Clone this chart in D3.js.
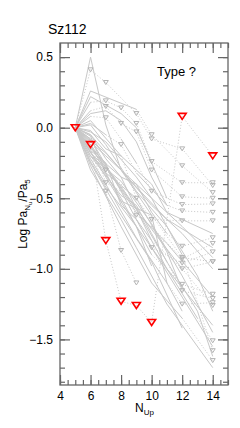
<!DOCTYPE html>
<html>
<head>
<meta charset="utf-8">
<script src="https://cdn.jsdelivr.net/npm/d3@7"></script>
<style>
  body { margin: 0; background: #fff; }
  svg { display: block; font-family: "Liberation Sans", Arial, sans-serif; }
</style>
</head>
<body>
<div id="chart"></div>
<script>
// Sz112 values (all upper limits, red)
const sz112N = [5, 6, 7, 8, 9, 10, 12, 14];
const sz112Val = [0, -0.12, -0.80, -1.23, -1.26, -1.38, 0.08, -0.20];

// comparison sources: [N_up, log ratio, upper limit flag]
const otherSources = [
    [[5,0,0],[6,0.50,0],[7,0.02,0],[8,-0.30,0],[10,-0.62,0],[12,-0.92,1],[14,-0.95,1]],
    [[5,0,0],[6,0.41,1],[7,0.32,1],[9,0.10,1],[10,-0.08,1],[12,-0.15,1],[14,-0.41,1]],
    [[5,0,0],[6,0.26,0],[9,0.13,0],[10,-0.05,1],[12,-0.27,1],[14,-0.46,1]],
    [[5,0,0],[6,0.18,0],[7,0.19,1],[8,0.14,1],[9,0.03,1],[10,-0.24,1],[12,-0.39,1],[14,-0.39,1]],
    [[5,0,0],[6,0.12,0],[7,0.15,1],[8,0.03,1],[9,-0.03,1],[10,-0.30,1],[12,-0.49,1],[14,-0.50,1]],
    [[5,0,0],[6,0.08,0],[7,0.07,1],[8,-0.08,0],[9,-0.25,0],[10,-0.45,1],[12,-0.545,1],[14,-0.54,1]],
    [[5,0,0],[6,0.03,0],[7,-0.05,0],[8,-0.12,1],[9,-0.32,0],[11,-0.55,0],[12,-0.59,1],[14,-0.60,1]],
    [[5,0,0],[6,-0.02,0],[7,-0.15,0],[8,-0.20,0],[9,-0.50,1],[10,-0.65,1],[12,-0.66,1],[14,-0.66,1]],
    [[5,0,0],[6,-0.05,0],[7,-0.22,0],[8,-0.35,0],[9,-0.40,0],[10,-0.60,0],[11,-0.75,0],[12,-0.84,1],[14,-0.78,1]],
    [[5,0,0],[6,-0.08,0],[7,-0.30,1],[8,-0.40,0],[9,-0.62,1],[10,-0.70,0],[12,-0.93,1],[14,-0.82,1]],
    [[5,0,0],[6,-0.10,0],[7,-0.39,1],[8,-0.45,0],[10,-0.85,1],[12,-0.96,1],[14,-0.88,1]],
    [[5,0,0],[6,-0.14,0],[7,-0.25,0],[8,-0.55,0],[9,-0.65,0],[10,-0.80,0],[12,-1.00,1],[14,-0.95,1]],
    [[5,0,0],[6,-0.17,0],[7,-0.33,0],[8,-0.50,0],[10,-0.90,0],[12,-1.11,1],[14,-1.18,1]],
    [[5,0,0],[6,-0.20,0],[8,-0.48,0],[9,-0.55,0],[10,-0.75,0],[11,-0.95,0],[12,-1.155,1],[14,-1.21,1]],
    [[5,0,0],[6,-0.22,0],[7,-0.40,0],[9,-0.78,0],[11,-1.10,0],[12,-1.25,1],[14,-1.24,1]],
    [[5,0,0],[6,-0.25,0],[8,-0.62,0],[10,-0.95,0],[12,-1.42,0]],
    [[5,0,0],[6,-0.27,0],[8,-0.70,0],[10,-1.10,0],[12,-1.35,0],[14,-1.65,1]],
    [[5,0,0],[7,-0.35,0],[9,-0.70,0],[11,-1.00,0],[13,-1.35,0],[14,-1.51,1]],
    [[5,0,0],[6,-0.12,0],[8,-0.42,0],[10,-0.72,0],[12,-1.00,0],[14,-1.26,1]],
    [[5,0,0],[6,-0.18,0],[7,-0.28,0],[9,-0.60,0],[11,-0.82,0],[14,-1.20,0]],
    [[5,0,0],[6,-0.05,0],[8,-0.30,0],[10,-0.55,0],[12,-0.75,0],[14,-1.00,0]],
    [[5,0,0],[7,-0.18,0],[9,-0.42,0],[11,-0.65,0],[14,-0.85,0]],
    [[5,0,0],[6,-0.30,0],[8,-0.65,0],[9,-0.85,0],[11,-1.25,0],[14,-1.70,0]],
    [[5,0,0],[6,-0.10,0],[7,-0.20,0],[10,-0.50,0],[12,-0.70,0],[14,-0.92,0]],
    [[5,0,0],[6,0.05,0],[8,-0.20,0],[10,-0.40,0],[11,-0.60,0],[14,-0.75,0]],
    [[5,0,0],[6,-0.03,0],[7,-0.10,0],[9,-0.35,0],[10,-0.50,0],[12,-0.90,0],[14,-1.58,1]],
    [[5,0,0],[6,0.10,0],[7,0.12,0],[8,0.05,0],[9,-0.10,0],[10,-0.35,0],[11,-0.55,0]],
    [[5,0,0],[6,0.22,0],[8,0.10,0],[9,0.00,0],[10,-0.25,0],[11,-0.50,0]],
    [[5,0,0],[6,-0.15,0],[7,-0.45,1],[8,-0.87,1],[9,-1.10,1]],
    [[5,0,0],[6,-0.08,0],[8,-0.45,0],[10,-0.85,0],[12,-1.20,0],[14,-1.55,0]],
    [[5,0,0],[7,-0.28,0],[9,-0.58,0],[11,-0.95,0],[13,-1.30,0],[14,-1.62,0]],
    [[5,0,0],[6,-0.20,0],[8,-0.38,0],[10,-0.68,0],[12,-1.05,0],[14,-1.45,0]],
    [[5,0,0],[6,-0.06,0],[7,-0.32,0],[9,-0.50,0],[11,-0.88,0],[12,-1.15,0]],
    [[5,0,0],[6,-0.12,0],[8,-0.52,0],[10,-0.62,0],[11,-1.10,0],[12,-1.30,0]],
    [[5,0,0],[6,-0.24,0],[7,-0.42,0],[9,-0.70,0],[10,-0.98,0]],
    [[5,0,0],[6,0.02,0],[7,-0.12,0],[9,-0.45,0],[11,-0.70,0],[13,-1.05,0],[14,-1.30,0]],
    [[5,0,0],[6,-0.16,0],[8,-0.35,0],[10,-0.80,0],[11,-1.00,0],[14,-1.40,0]]
];

const xTicks = [4, 6, 8, 10, 12, 14];
const yTicks = [0.5, 0.0, -0.5, -1.0, -1.5];

const W = 240, H = 428;
const x = d3.scaleLinear().domain([4, 15]).range([60, 228]);
const y = d3.scaleLinear().domain([-1.823, 0.6]).range([385, 43]);

const svg = d3.select("#chart").append("svg")
    .attr("width", W)
    .attr("height", H);

const grey = "#c8c8c8";
const axisCol = "#666";

// gray sources: solid between detections, dotted when a limit is involved
const plot = svg.append("g");
otherSources.forEach(src => {
    for (let i = 1; i < src.length; i++) {
        const a = src[i - 1], b = src[i];
        const dotted = a[2] || b[2];
        plot.append("line")
            .attr("x1", x(a[0])).attr("y1", y(a[1]))
            .attr("x2", x(b[0])).attr("y2", y(b[1]))
            .attr("stroke", grey)
            .attr("stroke-width", 1)
            .attr("stroke-dasharray", dotted ? "1,2" : null);
    }
});

const tri = (w, h) => `M${-w / 2},${-h / 2}L${w / 2},${-h / 2}L0,${h / 2}Z`;

otherSources.forEach(src => {
    plot.selectAll(null)
        .data(src.filter(d => d[2]))
        .enter().append("path")
        .attr("d", tri(5, 4))
        .attr("transform", d => `translate(${x(d[0])},${y(d[1])})`)
        .attr("fill", "none")
        .attr("stroke", "#b4b4b4")
        .attr("stroke-width", 1);
});

// Sz112 connecting dotted line + red triangles
const sz = sz112N.map((n, i) => ({ n: n, v: sz112Val[i] }));
plot.append("path")
    .datum(sz)
    .attr("d", d3.line().x(d => x(d.n)).y(d => y(d.v)))
    .attr("fill", "none")
    .attr("stroke", grey)
    .attr("stroke-dasharray", "1,2");

plot.selectAll(".red")
    .data(sz)
    .enter().append("path")
    .attr("class", "red")
    .attr("d", tri(8, 6))
    .attr("transform", d => `translate(${x(d.n)},${y(d.v)})`)
    .attr("fill", "none")
    .attr("stroke", "#ff0000")
    .attr("stroke-width", 1.6);

// axes box
svg.append("rect")
    .attr("x", 60).attr("y", 43)
    .attr("width", 168).attr("height", 342)
    .attr("fill", "none")
    .attr("stroke", axisCol)
    .attr("stroke-width", 1.3);

const yMinor = d3.range(-18, 6).map(d => d / 10);
const xMinor = d3.range(8, 31).map(d => d / 2);

function styleAxis(g) {
    g.select(".domain").remove();
    g.selectAll(".tick line").attr("stroke", axisCol).attr("stroke-width", 1.2);
    g.selectAll(".tick text").attr("fill", "#000");
}

// left
svg.append("g").attr("transform", "translate(60,0)")
    .call(d3.axisLeft(y).tickValues(yTicks).tickSize(-10).tickPadding(7)
        .tickFormat(d => d3.format(".1f")(d).replace("-", "\u2212")))
    .call(styleAxis)
    .call(g => g.selectAll(".tick text").attr("font-size", 12).attr("font-family", "Liberation Sans, Arial"));
svg.append("g").attr("transform", "translate(60,0)")
    .call(d3.axisLeft(y).tickValues(yMinor).tickSize(-5).tickFormat(""))
    .call(styleAxis);
// right
svg.append("g").attr("transform", "translate(228,0)")
    .call(d3.axisRight(y).tickValues(yTicks).tickSize(-10).tickFormat(""))
    .call(styleAxis);
svg.append("g").attr("transform", "translate(228,0)")
    .call(d3.axisRight(y).tickValues(yMinor).tickSize(-5).tickFormat(""))
    .call(styleAxis);
// bottom
svg.append("g").attr("transform", "translate(0,385)")
    .call(d3.axisBottom(x).tickValues(xTicks).tickSize(-10).tickPadding(6))
    .call(styleAxis)
    .call(g => g.selectAll(".tick text").attr("font-size", 12).attr("font-family", "Liberation Sans, Arial"));
svg.append("g").attr("transform", "translate(0,385)")
    .call(d3.axisBottom(x).tickValues(xMinor).tickSize(-5).tickFormat(""))
    .call(styleAxis);
// top
svg.append("g").attr("transform", "translate(0,43)")
    .call(d3.axisTop(x).tickValues(xTicks).tickSize(-10).tickFormat(""))
    .call(styleAxis);
svg.append("g").attr("transform", "translate(0,43)")
    .call(d3.axisTop(x).tickValues(xMinor).tickSize(-5).tickFormat(""))
    .call(styleAxis);

// title and annotation
svg.append("text").attr("x", 48).attr("y", 34)
    .attr("font-size", 14).text("Sz112");
svg.append("text").attr("x", 157).attr("y", 76)
    .attr("font-size", 13).text("Type ?");

// x label
const xl = svg.append("text").attr("x", 135).attr("y", 412).attr("font-size", 12);
xl.append("tspan").text("N");
xl.append("tspan").attr("font-size", 8).attr("dy", 3).text("Up");

// y label
const yl = svg.append("text")
    .attr("transform", "translate(27,214) rotate(-90)")
    .attr("text-anchor", "middle")
    .attr("font-size", 12);
yl.append("tspan").text("Log Pa");
yl.append("tspan").attr("font-size", 8).attr("dy", 3).text("N");
yl.append("tspan").attr("font-size", 6).attr("dy", 2).text("u");
yl.append("tspan").attr("dy", -5).text("/Pa");
yl.append("tspan").attr("font-size", 8).attr("dy", 3).text("5");
</script>
</body>
</html>
